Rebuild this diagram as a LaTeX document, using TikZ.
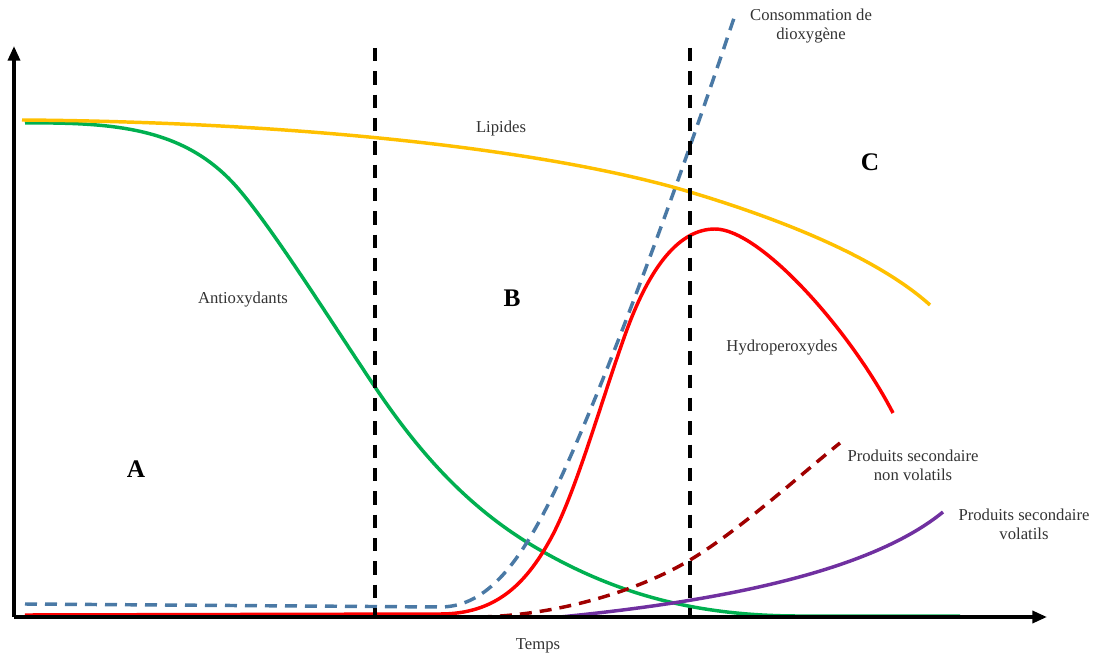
\documentclass[tikz,border=0pt]{standalone}
\usepackage{fontspec}
\setmainfont{Liberation Serif}
\usepackage{tikz}
\usetikzlibrary{arrows.meta}

\definecolor{lipcol}{HTML}{FFC000}
\definecolor{antcol}{HTML}{00B050}
\definecolor{oxycol}{HTML}{4A79A5}
\definecolor{hydcol}{HTML}{FF0000}
\definecolor{nvcol}{HTML}{A00000}
\definecolor{volcol}{HTML}{7030A0}

\tikzset{
	curve/.style={line width=2.6pt},
	dcurve/.style={curve, dash pattern=on 9pt off 6pt},
	phase/.style={line width=2.8pt, dash pattern=on 10pt off 7.5pt},
	axis/.style={line width=2.6pt, -{Triangle[length=11pt,width=9pt]}},
	lbl/.style={font=\fontsize{12.5}{14}\selectfont, align=center, text=black!80},
	zone/.style={font=\fontsize{19}{22}\selectfont\bfseries}
}

\begin{document}
\begin{tikzpicture}[x=0.75pt,y=-0.75pt]
		\useasboundingbox (0,0) rectangle (1095,655);
		\coordinate (O) at (14,617);
		\coordinate (xend) at (1047,617);
		\coordinate (yend) at (14,46);
		\coordinate (p1top) at (375,48);
		\coordinate (p1bot) at (375,617);
		\coordinate (p2top) at (690,48);
		\coordinate (p2bot) at (690,617);
		% courbes
		\draw[curve,antcol] (25,123) .. controls (120,122) and (185,130) .. (235,185)
			.. controls (270,224) and (330,320) .. (375,387)
			.. controls (420,454) and (470,510) .. (540,550)
			.. controls (620,596) and (700,616) .. (800,616) -- (960,616);
		\draw[curve,volcol] (560,617) .. controls (680,605) and (860,580) .. (943,512);
		\draw[dcurve,nvcol] (480,617) .. controls (560,615) and (640,590) .. (690,560)
			.. controls (740,530) and (800,475) .. (840,443);
		\draw[curve,hydcol] (25,615) -- (440,614) .. controls (495,614) and (525,585) .. (550,540)
			.. controls (575,495) and (600,405) .. (625,335)
			.. controls (650,265) and (680,229) .. (715,229)
			.. controls (760,229) and (850,330) .. (893,413);
		\draw[dcurve,oxycol] (25,604) -- (440,607) .. controls (480,607) and (510,575) .. (540,520)
			.. controls (580,447) and (660,240) .. (735,15);
		\draw[curve,lipcol] (22,120) .. controls (300,122) and (550,150) .. (690,192)
			.. controls (790,222) and (880,260) .. (930,305);
		% phases
		\draw[phase] (p1top) -- (p1bot);
		\draw[phase] (p2top) -- (p2bot);
		% axes
		\draw[axis] (O) -- (xend);
		\draw[axis] (O) -- (yend);
		% textes
		\node[lbl] (oxy) at (811,26) {Consommation de\\dioxygène};
		\node[lbl] (lip) at (501,128) {Lipides};
		\node[lbl] (ant) at (243,300) {Antioxydants};
		\node[lbl] (hyd) at (782,348) {Hydroperoxydes};
		\node[lbl] (nv) at (913,465) {Produits secondaire\\non volatils};
		\node[lbl] (vol) at (1024,524) {Produits secondaire\\volatils};
		\node[lbl] (tps) at (538,646) {Temps};
		\node[zone] (A) at (136,469) {A};
		\node[zone] (B) at (512,298) {B};
		\node[zone] (C) at (870,162) {C};
	\end{tikzpicture}
\end{document}
